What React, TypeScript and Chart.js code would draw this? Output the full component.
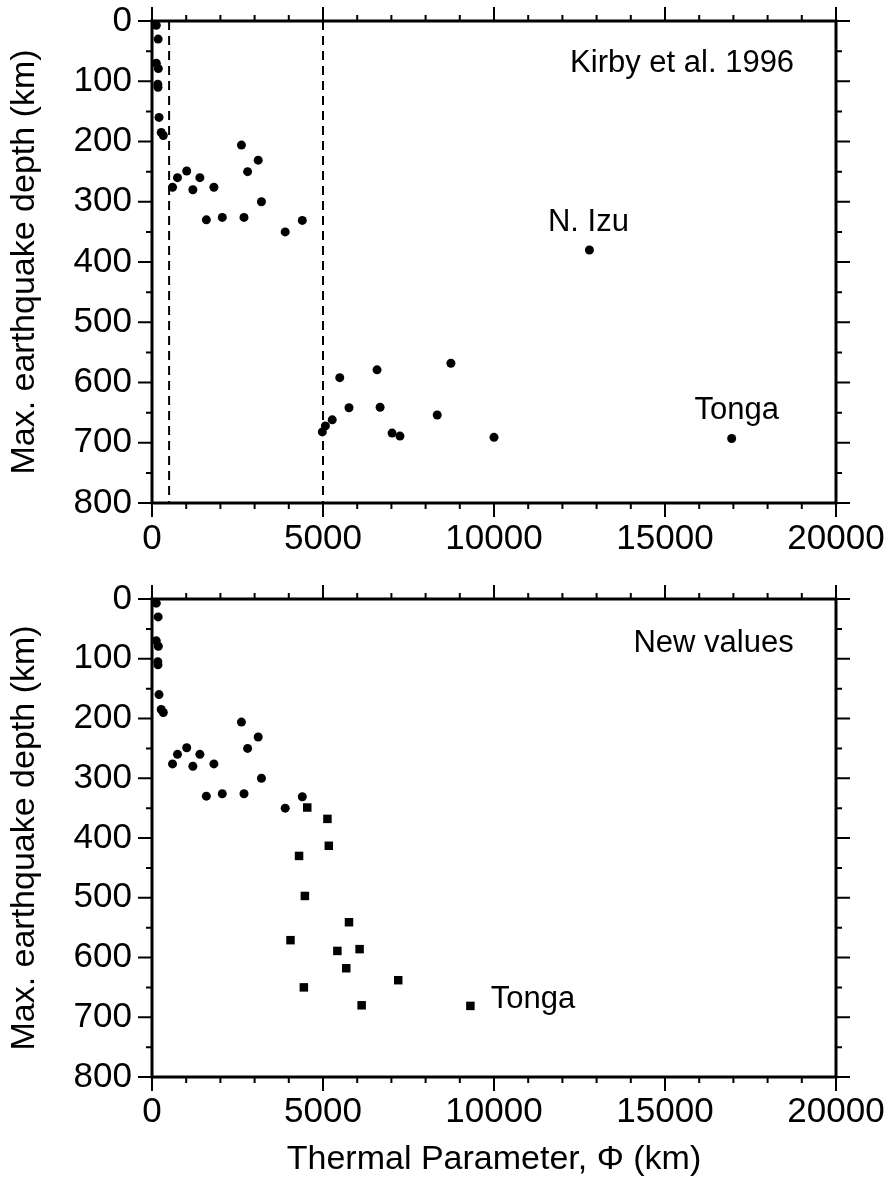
import React, { useEffect, useRef } from 'react';
import { Chart, registerables } from 'chart.js';

Chart.register(...registerables);

// ---------- data ----------
const shallowPhi = [125, 180, 125, 185, 170, 175, 205, 270, 330, 600, 745, 1015, 1195, 1400, 1810, 1590, 2055, 2615, 2795, 3105, 3200, 2690, 3895, 4395];
const shallowDepth = [7, 30, 70, 79, 105, 110, 160, 185, 190, 276, 260, 249, 280, 260, 276, 330, 326, 206, 250, 231, 300, 326, 350, 331];

const kirbyDeepPhi = [4980, 5070, 5270, 5490, 5760, 6580, 6670, 7020, 7250, 8340, 8740, 10000, 12790, 16950];
const kirbyDeepDepth = [682, 672, 662, 592, 642, 579, 641, 684, 689, 654, 568, 691, 380, 693];

const newDeepPhi = [4540, 5130, 5170, 4300, 4470, 5760, 4050, 5420, 6070, 5680, 4440, 7200, 6130, 9310];
const newDeepDepth = [349, 368, 413, 430, 497, 541, 571, 589, 586, 618, 650, 638, 680, 681];

const boundaryPhi = [500, 5000];
const depthRange = [0, 800];
const phiRange = [0, 20000];
const phiTicks = [0, 5000, 10000, 15000, 20000];
const depthTicks = [0, 100, 200, 300, 400, 500, 600, 700, 800];

const topNotes = ['Kirby et al. 1996', 'N. Izu', 'Tonga'];
const topNotePhi = [15500, 12760, 17100];
const topNoteDepth = [70, 335, 646];

const bottomNotes = ['New values', 'Tonga'];
const bottomNotePhi = [16420, 11140];
const bottomNoteDepth = [74, 671];

const yTitle = 'Max. earthquake depth (km)';
const xTitle = 'Thermal Parameter, \u03A6 (km)';

const FAMILY = '"Liberation Sans", Arial, Helvetica, sans-serif';

function toPoints(xs: number[], ys: number[]) {
  return xs.map((x, i) => ({ x, y: ys[i] }));
}

const framePlugin = {
  id: 'frame',
  afterDatasetsDraw(chart: any) {
    const { ctx, chartArea: ca } = chart;
    const xs = chart.scales.x;
    const ys = chart.scales.y;
    ctx.save();
    ctx.strokeStyle = '#000';
    ctx.lineWidth = 3;
    ctx.strokeRect(ca.left, ca.top, ca.right - ca.left, ca.bottom - ca.top);
    ctx.lineWidth = 2;
    ctx.beginPath();
    for (let v = phiRange[0]; v <= phiRange[1]; v += 1000) {
      const px = xs.getPixelForValue(v);
      const len = v % 5000 === 0 ? 14 : 6;
      ctx.moveTo(px, ca.bottom);
      ctx.lineTo(px, ca.bottom + len);
      ctx.moveTo(px, ca.top);
      ctx.lineTo(px, ca.top - len);
    }
    for (let v = depthRange[0]; v <= depthRange[1]; v += 50) {
      const py = ys.getPixelForValue(v);
      const len = v % 100 === 0 ? 14 : 6;
      ctx.moveTo(ca.left, py);
      ctx.lineTo(ca.left - len, py);
      ctx.moveTo(ca.right, py);
      ctx.lineTo(ca.right + len, py);
    }
    ctx.stroke();
    ctx.restore();
  },
};

function makeNotesPlugin(texts: string[], phis: number[], depths: number[], size: number) {
  return {
    id: 'notes',
    afterDatasetsDraw(chart: any) {
      const { ctx } = chart;
      const xs = chart.scales.x;
      const ys = chart.scales.y;
      ctx.save();
      ctx.fillStyle = '#000';
      ctx.font = `${size}px ${FAMILY}`;
      ctx.textAlign = 'center';
      ctx.textBaseline = 'middle';
      texts.forEach((t, i) => {
        ctx.fillText(t, xs.getPixelForValue(phis[i]), ys.getPixelForValue(depths[i]));
      });
      ctx.restore();
    },
  };
}

type PanelProps = {
  top: number;
  height: number;
  padTop: number;
  xHeight: number;
  xPad: number;
  showXTitle: boolean;
  datasets: any[];
  notes: any;
};

function Panel({ top, height, padTop, xHeight, xPad, showXTitle, datasets, notes }: PanelProps) {
  const ref = useRef<HTMLCanvasElement | null>(null);
  useEffect(() => {
    if (!ref.current) return;
    const zeroPad = (s: any) => {
      s.paddingLeft = 0;
      s.paddingRight = 0;
      s.paddingTop = 0;
      s.paddingBottom = 0;
    };
    const chart = new Chart(ref.current, {
      type: 'scatter',
      data: { datasets },
      options: {
        animation: false,
        responsive: false,
        devicePixelRatio: 1,
        layout: { padding: { left: 0, right: 56, top: padTop, bottom: 0 } },
        plugins: { legend: { display: false }, tooltip: { enabled: false } },
        scales: {
          x: {
            type: 'linear',
            position: 'bottom',
            min: phiRange[0],
            max: phiRange[1],
            afterFit: (s: any) => {
              s.height = xHeight;
              zeroPad(s);
            },
            afterBuildTicks: (s: any) => {
              s.ticks = phiTicks.map((v) => ({ value: v }));
            },
            ticks: {
              color: '#000',
              font: { family: FAMILY, size: 35 },
              padding: xPad,
              maxRotation: 0,
              autoSkip: false,
              callback: (v: any) => String(v),
            },
            grid: { display: false, drawTicks: false },
            border: { display: false },
            title: {
              display: showXTitle,
              text: xTitle,
              color: '#000',
              font: { family: FAMILY, size: 34 },
              padding: { top: 0, bottom: 7 },
            },
          },
          y: {
            type: 'linear',
            position: 'left',
            min: depthRange[0],
            max: depthRange[1],
            reverse: true,
            afterFit: (s: any) => {
              s.width = 152;
              zeroPad(s);
            },
            afterBuildTicks: (s: any) => {
              s.ticks = depthTicks.map((v) => ({ value: v }));
            },
            ticks: {
              color: '#000',
              font: { family: FAMILY, size: 35 },
              padding: 20,
              autoSkip: false,
              callback: (v: any) => String(v),
            },
            grid: { display: false, drawTicks: false },
            border: { display: false },
            title: {
              display: true,
              text: yTitle,
              color: '#000',
              font: { family: FAMILY, size: 34 },
              padding: { top: 4, bottom: 0 },
            },
          },
        },
      } as any,
      plugins: [framePlugin, notes],
    });
    return () => chart.destroy();
  }, []);
  return (
    <canvas
      ref={ref}
      width={892}
      height={height}
      style={{ position: 'absolute', left: 0, top, width: 892, height, display: 'block' }}
    />
  );
}

export default function App() {
  const circle = {
    pointStyle: 'circle',
    pointRadius: 4.5,
    pointBackgroundColor: '#000',
    pointBorderColor: '#000',
    pointBorderWidth: 0,
    showLine: false,
    clip: false,
  };
  const boundaries = boundaryPhi.map((b) => ({
    type: 'line',
    data: toPoints([b, b], depthRange),
    borderColor: '#000',
    borderWidth: 2,
    borderDash: [9, 6],
    pointRadius: 0,
    fill: false,
    showLine: true,
  }));

  const topDatasets = [
    ...boundaries,
    { ...circle, data: toPoints(shallowPhi.concat(kirbyDeepPhi), shallowDepth.concat(kirbyDeepDepth)) },
  ];
  const bottomDatasets = [
    { ...circle, data: toPoints(shallowPhi, shallowDepth) },
    {
      ...circle,
      pointStyle: 'rect',
      pointRadius: 6,
      data: toPoints(newDeepPhi, newDeepDepth),
    },
  ];

  return (
    <div style={{ position: 'absolute', left: 0, top: 0, width: 892, height: 1187, background: '#fff' }}>
      <Panel
        top={0}
        height={570}
        padTop={21}
        xHeight={67}
        xPad={15}
        showXTitle={false}
        datasets={topDatasets}
        notes={makeNotesPlugin(topNotes, topNotePhi, topNoteDepth, 31)}
      />
      <Panel
        top={570}
        height={617}
        padTop={29}
        xHeight={110}
        xPad={14}
        showXTitle={true}
        datasets={bottomDatasets}
        notes={makeNotesPlugin(bottomNotes, bottomNotePhi, bottomNoteDepth, 31)}
      />
    </div>
  );
}
